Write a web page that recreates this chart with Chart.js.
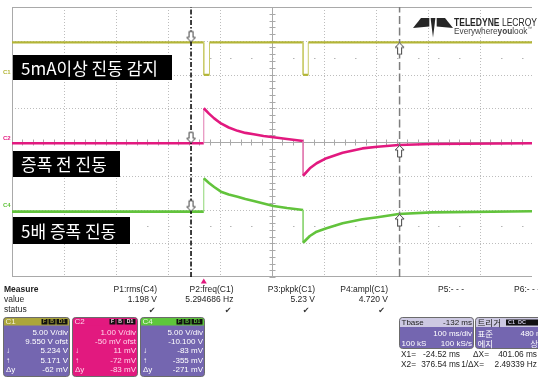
<!DOCTYPE html>
<html><head><meta charset="utf-8">
<script src="https://cdn.jsdelivr.net/npm/chart.js@4.4.0/dist/chart.umd.min.js"></script>
<style>html,body{margin:0;padding:0;background:#fff;overflow:hidden}#wrap{width:538px;height:377px;position:relative}</style>
</head><body><div id="wrap"><canvas id="c" width="538" height="377"></canvas></div>
<script>
// ---- data (time in ms relative to trigger, volts) ----
const X_MIN = -368.8, X_MAX = 631.2;           // 10 div x 100 ms/div
const timeC1 = [-369, 0, 0, 11, 11, 191, 191, 201, 201, 632];
const voltC1 = [5.2, 5.2, 0.4, 0.4, 5.2, 5.2, 0.4, 0.4, 5.2, 5.2];
const timeC2C4 = [-369, 0, 0, 10, 20, 33, 48, 65, 80, 96, 115, 134, 160, 191, 191, 204, 217, 236, 267, 305, 334, 375, 438, 632];
const voltC2 = [0.012, 0.012, 1.05, 0.89, 0.75, 0.60, 0.48, 0.38, 0.32, 0.28, 0.23, 0.19, 0.14, 0.08, -0.95, -0.73, -0.58, -0.43, -0.27, -0.14, -0.09, -0.04, -0.01, 0.012];
const voltC4 = [-0.22, -0.22, 4.72, 4.03, 3.43, 2.74, 2.32, 2.0, 1.66, 1.36, 0.99, 0.62, 0.32, 0.03, -4.82, -3.83, -3.19, -2.69, -1.94, -1.35, -1.05, -0.57, -0.32, -0.16];
const channelNames = ['C1', 'C2', 'C4'];
const voltsPerDiv = [5.0, 1.0, 5.0];
const offsets = [9.55, -0.05, -10.1];
const cursorTimes = [-24.52, 376.54];
const cursorC1 = [5.2, 5.2];
const cursorC2 = [0.012, -0.04];
const cursorC4 = [-0.22, -0.57];
const labelTexts = ['5mA이상 진동 감지', '증폭 전 진동', '5배 증폭 진동'];
const measNames = ['P1:rms(C4)', 'P2:freq(C1)', 'P3:pkpk(C1)', 'P4:ampl(C1)', 'P5:- - -', 'P6:- - -'];
const measValues = ['1.198 V', '5.294686 Hz', '5.23 V', '4.720 V', '', ''];
const measStatus = [true, true, true, true, false, false];
const boxC1 = ['5.00 V/div', '9.550 V ofst', '5.234 V', '5.171 V', '-62 mV'];
const boxC2 = ['1.00 V/div', '-50 mV ofst', '11 mV', '-72 mV', '-83 mV'];
const boxC4 = ['5.00 V/div', '-10.100 V', '-83 mV', '-355 mV', '-271 mV'];
const rowSymbols = ['', '', '↓', '↑', 'Δy'];
const tbaseRows = ['Tbase', '-132 ms', '100 ms/div', '100 kS', '100 kS/s'];
const trigRows = ['트리거', '표준', '480 mV', '에지', '상승'];
const cursorRead = ['X1=', '-24.52 ms', 'ΔX=', '401.06 ms', 'X2=', '376.54 ms', '1/ΔX=', '2.49339 Hz'];

// ---- styles ----
const COL = { C1: '#b3b537', C2: '#e2197f', C4: '#62c33c' };
const pts = (t, v) => t.map((x, i) => ({ x, y: v[i] }));

function arrowImg(dir) {
  const c = document.createElement('canvas'); c.width = 11; c.height = 26;
  const g = c.getContext('2d');
  g.beginPath();
  if (dir === 'down') {
    g.moveTo(5.5, 12.5); g.lineTo(1, 8); g.lineTo(3.5, 8); g.lineTo(3.5, 2); g.lineTo(7.5, 2); g.lineTo(7.5, 8); g.lineTo(10, 8);
  } else {
    g.moveTo(5.5, 13.5); g.lineTo(1, 18); g.lineTo(3.5, 18); g.lineTo(3.5, 25); g.lineTo(7.5, 25); g.lineTo(7.5, 18); g.lineTo(10, 18);
  }
  g.closePath(); g.fillStyle = '#fff'; g.fill(); g.strokeStyle = '#444'; g.lineWidth = 1; g.stroke();
  return c;
}
const downA = arrowImg('down'), upA = arrowImg('up');

const vertSeg = (col, light) => ({
  borderWidth: ctx => ctx.p0.parsed.x === ctx.p1.parsed.x ? 1 : undefined,
  borderColor: ctx => ctx.p0.parsed.x === ctx.p1.parsed.x ? light : undefined
});

function chScale(i) { return { type: 'linear', display: false, min: -4 * voltsPerDiv[i] - offsets[i], max: 4 * voltsPerDiv[i] - offsets[i] }; }

const gridPlugin = {
  id: 'scopeGrid',
  beforeDatasetsDraw(chart) {
    const { ctx, chartArea: { left, top, right, bottom }, scales: { x, yGrid } } = chart;
    ctx.save(); ctx.lineWidth = 1;
    ctx.strokeStyle = '#bdbdbd'; ctx.setLineDash([1, 2]);
    for (let k = 1; k < 10; k++) {
      if (k === 5) continue;
      const px = Math.round(x.getPixelForValue(X_MIN + k * 100)) + 0.5;
      ctx.beginPath(); ctx.moveTo(px, top); ctx.lineTo(px, bottom); ctx.stroke();
    }
    for (let j = -3; j <= 3; j++) {
      if (j === 0) continue;
      const py = Math.round(yGrid.getPixelForValue(j)) + 0.5;
      ctx.beginPath(); ctx.moveTo(left, py); ctx.lineTo(right, py); ctx.stroke();
    }
    ctx.setLineDash([]);
    // sparse dots
    ctx.fillStyle = '#b5b5b5';
    [2.5, -2.5].forEach(j => {
      const py = Math.round(yGrid.getPixelForValue(j));
      for (let d = 0.2; d < 10; d += 0.4) {
        const px = x.getPixelForValue(X_MIN + d * 100);
        ctx.fillRect(Math.round(px), py, 1.5, 1);
      }
    });
    ctx.strokeStyle = '#a9a9a9';
    const cx = Math.round(x.getPixelForValue(X_MIN + 500)) + 0.5;
    const cy = Math.round(yGrid.getPixelForValue(0)) + 0.5;
    ctx.beginPath();
    ctx.moveTo(left + 0.5, top); ctx.lineTo(left + 0.5, bottom);
    ctx.moveTo(left, top + 0.5); ctx.lineTo(right, top + 0.5);
    ctx.moveTo(left, bottom - 0.5); ctx.lineTo(right, bottom - 0.5);
    ctx.moveTo(cx, top); ctx.lineTo(cx, bottom);
    ctx.moveTo(left, cy); ctx.lineTo(right, cy);
    for (let m = -20; m <= 20; m++) {
      const py = Math.round(yGrid.getPixelForValue(m * 0.2)) + 0.5;
      ctx.moveTo(cx - 3, py); ctx.lineTo(cx + 3, py);
    }
    for (let m = 1; m < 50; m++) {
      const px = Math.round(x.getPixelForValue(X_MIN + m * 20)) + 0.5;
      ctx.moveTo(px, cy - 3); ctx.lineTo(px, cy + 3);
    }
    ctx.stroke();
    ctx.restore();
  },
  afterDatasetsDraw(chart) {
    const { ctx, scales } = chart;
    const x = scales.x;
    ctx.save();
    // channel ground labels
    ctx.font = 'bold 6px "Liberation Sans", Arial';
    ctx.textAlign = 'left'; ctx.textBaseline = 'bottom';
    channelNames.forEach((n) => {
      const py = scales['y' + n].getPixelForValue(0);
      ctx.fillStyle = COL[n];
      ctx.fillText(n, 3, py - 2);
    });
    // label boxes
    const boxes = [[13, 55, 159, 25], [13, 151, 107, 26], [13, 217, 117, 27]];
    ctx.font = '17px "Noto Sans CJK KR"';
    ctx.textBaseline = 'middle';
    boxes.forEach((b, i) => {
      ctx.fillStyle = '#000'; ctx.fillRect(b[0], b[1], b[2], b[3]);
      ctx.fillStyle = '#fff'; ctx.fillText(labelTexts[i], b[0] + 8, b[1] + b[3] / 2 + 1);
    });
    // logo
    ctx.fillStyle = '#262626';
    const poly = p => { ctx.beginPath(); ctx.moveTo(p[0], p[1]); for (let k = 2; k < p.length; k += 2) ctx.lineTo(p[k], p[k + 1]); ctx.closePath(); ctx.fill(); };
    poly([413, 28, 421, 18, 429.3, 18, 429.3, 26.5]);
    poly([430.6, 18, 435.4, 18, 433, 37.5]);
    poly([436.7, 18, 445, 18, 453, 28, 436.7, 26.5]);
    ctx.textBaseline = 'alphabetic';
    ctx.font = 'bold 10px "Liberation Sans", Arial';
    const w1 = ctx.measureText('TELEDYNE ').width;
    ctx.font = '10px "Liberation Sans", Arial';
    const w2 = ctx.measureText('LECROY').width;
    const s1 = 83 / (w1 + w2);
    ctx.save(); ctx.translate(454, 25.7); ctx.scale(s1, 1);
    ctx.font = 'bold 10px "Liberation Sans", Arial'; ctx.fillText('TELEDYNE ', 0, 0);
    ctx.font = '10px "Liberation Sans", Arial'; ctx.fillText('LECROY', w1, 0);
    ctx.restore();
    ctx.fillStyle = '#444';
    const parts = [['Everywhere', ''], ['you', 'bold '], ['look', ''], ['™', '']];
    let tw = 0; const ws = parts.map((p, i) => { ctx.font = p[1] + (i === 3 ? '5px' : '9px') + ' "Liberation Sans", Arial'; const w = ctx.measureText(p[0]).width; tw += w; return w; });
    const s2 = 78 / tw;
    ctx.save(); ctx.translate(454, 33.5); ctx.scale(s2, 1);
    let ox = 0;
    parts.forEach((p, i) => { ctx.font = p[1] + (i === 3 ? '5px' : '9px') + ' "Liberation Sans", Arial'; ctx.fillText(p[0], ox, i === 3 ? -4 : 0); ox += ws[i]; });
    ctx.restore();
    // trigger marker below grid
    const tx = x.getPixelForValue(0);
    ctx.fillStyle = COL.C2;
    ctx.beginPath(); ctx.moveTo(tx, 278.5); ctx.lineTo(tx - 3, 283.5); ctx.lineTo(tx + 3, 283.5); ctx.closePath(); ctx.fill();
    drawPanel(ctx);
    ctx.restore();
  }
};

function rrect(ctx, x, y, w, h, r) {
  ctx.beginPath(); ctx.moveTo(x + r, y); ctx.lineTo(x + w - r, y); ctx.quadraticCurveTo(x + w, y, x + w, y + r);
  ctx.lineTo(x + w, y + h - r); ctx.quadraticCurveTo(x + w, y + h, x + w - r, y + h); ctx.lineTo(x + r, y + h);
  ctx.quadraticCurveTo(x, y + h, x, y + h - r); ctx.lineTo(x, y + r); ctx.quadraticCurveTo(x, y, x + r, y); ctx.closePath();
}

function drawPanel(ctx) {
  const F = '"Liberation Sans", Arial';
  ctx.textBaseline = 'middle';
  ctx.fillStyle = '#1e1e1e';
  ctx.font = 'bold 8.5px ' + F; ctx.textAlign = 'left';
  ctx.fillText('Measure', 4, 289.5);
  ctx.font = '8.5px ' + F;
  ctx.fillText('value', 4, 299.5);
  ctx.fillText('status', 4, 310);
  const rights = [157, 233.5, 315, 388, 464, 540];
  ctx.textAlign = 'right';
  measNames.forEach((n, i) => {
    ctx.fillText(n, rights[i], 289.5);
    if (measValues[i]) ctx.fillText(measValues[i], rights[i], 299.5);
  });
  ctx.font = '8px "DejaVu Sans"'; ctx.textAlign = 'center'; ctx.fillStyle = '#333';
  const checks = [152, 228, 306, 381.5];
  measStatus.forEach((s, i) => { if (s) ctx.fillText('✔', checks[i], 310.5); });

  // channel boxes
  const chBoxes = [
    { x: 3.5, w: 66, head: '#aca63b', body: '#7466b0', name: 'C1', rows: boxC1, txt: '#fff', htxt: '#f4f2d8' },
    { x: 72.5, w: 65, head: '#e2197f', body: '#e2197f', name: 'C2', rows: boxC2, txt: '#ffd5ea', htxt: '#ffd5ea' },
    { x: 140.5, w: 64, head: '#5ec63c', body: '#7466b0', name: 'C4', rows: boxC4, txt: '#fff', htxt: '#eaf7e2' }
  ];
  const rowY = [332.5, 341.8, 351.1, 360.4, 369.7];
  chBoxes.forEach(b => {
    const y = 317.5, h = 59;
    rrect(ctx, b.x, y, b.w, h, 3); ctx.fillStyle = b.body; ctx.fill();
    ctx.save(); rrect(ctx, b.x, y, b.w, h, 3); ctx.clip();
    ctx.fillStyle = b.head; ctx.fillRect(b.x, y, b.w, 8); ctx.restore();
    rrect(ctx, b.x, y, b.w, h, 3); ctx.strokeStyle = '#6b6b6b'; ctx.lineWidth = 1; ctx.stroke();
    ctx.font = '8px ' + F; ctx.textAlign = 'left'; ctx.fillStyle = b.htxt;
    ctx.fillText(b.name, b.x + 2, y + 4.3);
    // badge
    const bx = b.x + b.w - 28;
    ctx.fillStyle = '#111';
    ctx.fillRect(bx, y + 1.5, 6, 5.5); ctx.fillRect(bx + 7, y + 1.5, 7, 5.5); ctx.fillRect(bx + 15, y + 1.5, 11, 5.5);
    ctx.font = 'bold 5px ' + F; ctx.fillStyle = b.head === b.body ? '#ffd5ea' : b.head; ctx.textAlign = 'center';
    ctx.fillText('F', bx + 3, y + 4.5); ctx.fillText('B', bx + 10.5, y + 4.5); ctx.fillText('D1', bx + 20.5, y + 4.5);
    ctx.font = '8px ' + F; ctx.fillStyle = b.txt;
    b.rows.forEach((r, k) => {
      ctx.textAlign = 'right'; ctx.fillText(r, b.x + b.w - 1.5, rowY[k]);
      if (rowSymbols[k]) { ctx.textAlign = 'left'; ctx.fillText(rowSymbols[k], b.x + 2.5, rowY[k]); }
    });
  });

  // timebase box
  const tby = 317.5, tbh = 31;
  rrect(ctx, 399.5, tby, 74, tbh, 3); ctx.fillStyle = '#7466b0'; ctx.fill();
  ctx.save(); rrect(ctx, 399.5, tby, 74, tbh, 3); ctx.clip(); ctx.fillStyle = '#cdc9e2'; ctx.fillRect(399.5, tby, 74, 9.5); ctx.restore();
  rrect(ctx, 399.5, tby, 74, tbh, 3); ctx.strokeStyle = '#6b6b6b'; ctx.stroke();
  ctx.font = '8px ' + F; ctx.fillStyle = '#222';
  ctx.textAlign = 'left'; ctx.fillText(tbaseRows[0], 401.5, 322.3);
  ctx.textAlign = 'right'; ctx.fillText(tbaseRows[1], 472, 322.3);
  ctx.fillStyle = '#fff';
  ctx.fillText(tbaseRows[2], 472, 333.5);
  ctx.textAlign = 'left'; ctx.fillText(tbaseRows[3], 401.5, 343.5);
  ctx.textAlign = 'right'; ctx.fillText(tbaseRows[4], 472, 343.5);

  // trigger box
  rrect(ctx, 475.5, tby, 80, tbh, 3); ctx.fillStyle = '#7466b0'; ctx.fill();
  ctx.save(); rrect(ctx, 475.5, tby, 80, tbh, 3); ctx.clip(); ctx.fillStyle = '#cdc9e2'; ctx.fillRect(475.5, tby, 80, 9.5); ctx.restore();
  rrect(ctx, 475.5, tby, 80, tbh, 3); ctx.strokeStyle = '#6b6b6b'; ctx.stroke();
  ctx.fillStyle = '#222'; ctx.font = '8.5px "Noto Sans CJK KR"'; ctx.textAlign = 'left';
  ctx.fillText(trigRows[0], 477.5, 322.3);
  ctx.fillStyle = '#111'; ctx.fillRect(506, tby + 2, 33, 6);
  ctx.font = 'bold 5.5px ' + F; ctx.fillStyle = '#cdc9e2'; ctx.fillText('C1  DC', 508, 322.5);
  ctx.fillStyle = '#fff'; ctx.font = '8.5px "Noto Sans CJK KR"';
  ctx.fillText(trigRows[1], 477.5, 333.5);
  ctx.fillText(trigRows[3], 477.5, 343.5);
  ctx.textAlign = 'right'; ctx.font = '8px ' + F;
  ctx.fillText(trigRows[2], 548, 333.5);
  ctx.font = '8.5px "Noto Sans CJK KR"';
  ctx.fillText(trigRows[4], 546, 343.5);

  // cursor readout
  ctx.fillStyle = '#1e1e1e'; ctx.font = '8.3px ' + F;
  ctx.textAlign = 'left'; ctx.fillText(cursorRead[0], 401, 355); ctx.fillText(cursorRead[4], 401, 365);
  ctx.textAlign = 'right'; ctx.fillText(cursorRead[1], 460, 355); ctx.fillText(cursorRead[5], 460, 365);
  ctx.fillText(cursorRead[2], 489, 355); ctx.fillText(cursorRead[6], 484, 365);
  ctx.fillText(cursorRead[3], 537, 355); ctx.fillText(cursorRead[7], 537, 365);
}

new Chart(document.getElementById('c'), {
  type: 'line',
  data: {
    datasets: [
      { data: pts([cursorTimes[0], cursorTimes[1]], cursorC1), yAxisID: 'yC1', showLine: false, pointStyle: [downA, upA], pointRadius: 5, order: 0 },
      { data: pts([cursorTimes[0], cursorTimes[1]], cursorC2), yAxisID: 'yC2', showLine: false, pointStyle: [downA, upA], pointRadius: 5, order: 0 },
      { data: pts([cursorTimes[0], cursorTimes[1]], cursorC4), yAxisID: 'yC4', showLine: false, pointStyle: [downA, upA], pointRadius: 5, order: 0 },
      { data: [{ x: cursorTimes[0], y: -4 }, { x: cursorTimes[0], y: 4 }], yAxisID: 'yGrid', borderColor: '#000', borderWidth: 1.5, borderDash: [5, 2, 1.5, 2], pointRadius: 0, order: 1 },
      { data: [{ x: cursorTimes[1], y: -4 }, { x: cursorTimes[1], y: 4 }], yAxisID: 'yGrid', borderColor: '#7d7d7d', borderWidth: 1.5, borderDash: [8, 3.5], pointRadius: 0, order: 1 },
      { data: pts(timeC1, voltC1), yAxisID: 'yC1', borderColor: COL.C1, borderWidth: 2.2, pointRadius: 0, tension: 0, segment: vertSeg(COL.C1, '#c9cb6a'), order: 2 },
      { data: pts(timeC2C4, voltC2), yAxisID: 'yC2', borderColor: COL.C2, borderWidth: 2.6, pointRadius: 0, tension: 0, segment: vertSeg(COL.C2, '#e27ab0'), order: 2 },
      { data: pts(timeC2C4, voltC4), yAxisID: 'yC4', borderColor: COL.C4, borderWidth: 2.6, pointRadius: 0, tension: 0, segment: vertSeg(COL.C4, '#8ed674'), order: 2 }
    ]
  },
  options: {
    responsive: false, animation: false, devicePixelRatio: 1,
    layout: { padding: { left: 12, top: 7, right: 0, bottom: 100 } },
    plugins: { legend: { display: false }, tooltip: { enabled: false } },
    elements: { line: { borderJoinStyle: 'round', borderCapStyle: 'butt' } },
    scales: {
      x: { type: 'linear', display: false, min: X_MIN, max: X_MAX },
      yGrid: { type: 'linear', display: false, min: -4, max: 4 },
      yC1: chScale(0), yC2: chScale(1), yC4: chScale(2)
    }
  },
  plugins: [gridPlugin]
});
</script></body></html>
